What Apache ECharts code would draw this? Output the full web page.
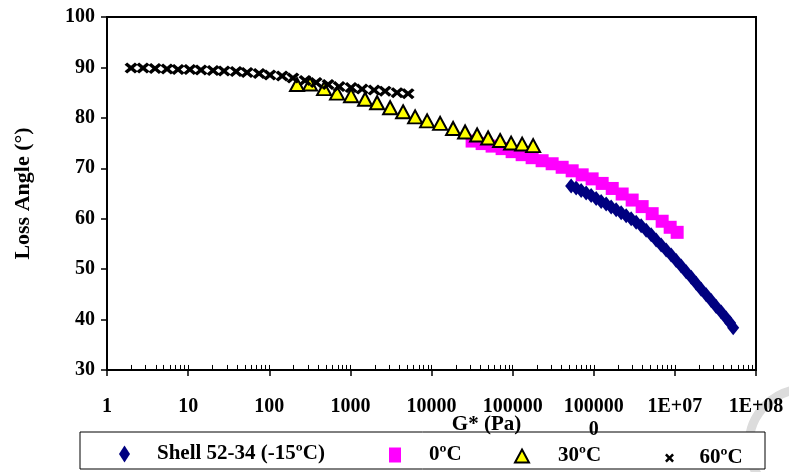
<!DOCTYPE html>
<html><head><meta charset="utf-8">
<script src="https://cdn.jsdelivr.net/npm/echarts@6/dist/echarts.min.js"></script>
<style>html,body{margin:0;padding:0;background:#fff}#c{width:789px;height:472px}</style>
</head><body><div id="c"></div>
<script>
const seriesNames = ['Shell 52-34 (-15ºC)', '0ºC', '30ºC', '60ºC'];

const shellG = [5.264e5, 6.067e5, 6.993e5, 8.060e5, 9.289e5, 1.071e6, 1.234e6, 1.422e6, 1.639e6, 1.889e6, 2.177e6, 2.509e6, 2.892e6, 3.333e6, 3.841e6, 4.428e6, 5.103e6, 5.881e6, 6.779e6, 7.812e6, 9.003e6, 1.038e7, 1.196e7, 1.378e7, 1.589e7, 1.831e7, 2.110e7, 2.432e7, 2.803e7, 3.231e7, 3.723e7, 4.291e7, 4.807e7, 5.235e7];
const shellAngle = [66.5, 66.1, 65.6, 65.1, 64.6, 64.0, 63.4, 62.9, 62.3, 61.8, 61.2, 60.6, 60.0, 59.3, 58.6, 57.7, 56.8, 55.8, 54.8, 53.8, 52.8, 51.7, 50.6, 49.5, 48.4, 47.2, 46.0, 44.9, 43.8, 42.6, 41.5, 40.3, 39.3, 38.4];

const g0C = [31670, 42070, 55850, 74200, 98600, 131000, 174000, 231000, 307000, 408000, 542000, 720000, 955000, 1270000, 1690000, 2240000, 2975000, 3950000, 5250000, 6970000, 8750000, 10670000];
const angle0C = [75.4, 74.9, 74.4, 73.9, 73.3, 72.7, 72.1, 71.5, 70.9, 70.2, 69.5, 68.7, 67.9, 67.0, 66.0, 64.9, 63.7, 62.4, 61.0, 59.5, 58.3, 57.3];

const g30C = [220, 318, 474, 685, 1020, 1518, 2135, 3090, 4465, 6280, 8830, 12770, 18460, 25950, 36500, 49880, 70100, 95800, 131000, 179000];
const angle30C = [86.6, 86.7, 85.8, 84.9, 84.4, 83.7, 83.0, 82.0, 81.2, 80.2, 79.4, 78.9, 77.9, 77.2, 76.6, 76.0, 75.5, 75.0, 74.8, 74.5];

const g60C = [1.98, 2.78, 3.91, 5.49, 7.51, 10.5, 14.4, 20.3, 27.7, 39.0, 53.3, 74.9, 102, 144, 196, 276, 378, 531, 726, 1020, 1394, 1960, 2679, 3765, 5145];
const angle60C = [89.9, 89.9, 89.8, 89.7, 89.6, 89.6, 89.5, 89.4, 89.3, 89.2, 89.0, 88.8, 88.5, 88.3, 87.9, 87.4, 87.0, 86.6, 86.2, 86.0, 85.7, 85.5, 85.3, 85.0, 84.8];

const xTickLabels = ['1', '10', '100', '1000', '10000', '100000', '100000\n0', '1E+07', '1E+08'];
const decades = [1, 10, 100, 1000, 1e4, 1e5, 1e6, 1e7];
const minorMultipliers = [1, 2, 3, 4, 5, 6, 7, 8, 9];
const minorTickValues = [];
decades.forEach(function (d) {
  minorMultipliers.forEach(function (m) { minorTickValues.push(m * d); });
});
minorTickValues.push(1e8);
const Y_MIN = 30, Y_MAX = 100, MINOR_TICK_SPAN = 1;

const FONT = "'Liberation Serif', 'Times New Roman', serif";
const xMark = 'path://M0,2L2,0L5,3L8,0L10,2L7,5L10,8L8,10L5,7L2,10L0,8L3,5Z';

function zip(a, b) { return a.map(function (v, i) { return [v, b[i]]; }); }

const chart = echarts.init(document.getElementById('c'), null, {renderer: 'canvas'});

function legendAt(name, left, w, h, pad) {
  return {
    data: [name], left: left, top: 452 - h / 2, orient: 'horizontal', padding: 0,
    itemWidth: w, itemHeight: h, selectedMode: false,
    textStyle: {fontFamily: FONT, fontWeight: 'bold', fontSize: 21, color: '#000', padding: [0, 0, 0, pad]}
  };
}

chart.setOption({
  animation: false,
  backgroundColor: '#fff',
  grid: {left: 107, right: 33, top: 17, bottom: 102, show: true, borderColor: '#000', borderWidth: 2, backgroundColor: 'transparent'},
  xAxis: {
    type: 'log', logBase: 10, min: 1, max: 1e8,
    name: 'G* (Pa)', nameLocation: 'middle', nameGap: 44, nameMoveOverlap: false,
    nameTextStyle: {fontFamily: FONT, fontWeight: 'bold', fontSize: 21, color: '#000', padding: [0, 0, 0, 110]},
    axisLine: {show: true, lineStyle: {color: '#000', width: 2}},
    axisTick: {show: true, inside: false, length: 6, lineStyle: {color: '#000', width: 1.5}},
    axisLabel: {
      margin: 25, fontFamily: FONT, fontWeight: 'bold', fontSize: 20, color: '#000', lineHeight: 23, verticalAlign: 'top',
      formatter: function (v) { return xTickLabels[Math.round(Math.log10(v))]; }
    },
    splitLine: {show: false}
  },
  yAxis: {
    type: 'value', min: Y_MIN, max: Y_MAX, interval: 10,
    name: 'Loss Angle (°)', nameLocation: 'middle', nameGap: 73, nameMoveOverlap: false,
    nameTextStyle: {fontFamily: FONT, fontWeight: 'bold', fontSize: 22, color: '#000'},
    axisLine: {show: true, lineStyle: {color: '#000', width: 2}},
    axisTick: {show: true, inside: false, length: 6, lineStyle: {color: '#000', width: 1.5}},
    axisLabel: {margin: 12, fontFamily: FONT, fontWeight: 'bold', fontSize: 20, color: '#000'},
    splitLine: {show: false}
  },
  legend: [
    legendAt(seriesNames[0], 119, 11, 17, 22),
    legendAt(seriesNames[1], 389, 12, 15, 23),
    legendAt(seriesNames[2], 514, 14, 13, 24),
    legendAt(seriesNames[3], 665, 10, 9, 20)
  ],
  graphic: [
    {type: 'arc', z: -1, silent: true, shape: {cx: 805, cy: 445, r: 56, startAngle: 0, endAngle: Math.PI * 2},
     style: {stroke: '#dcdcdc', lineWidth: 9, fill: null}},
    {type: 'rect', z: 0, silent: true, shape: {x: 80, y: 432, width: 685, height: 37},
     style: {fill: '#fff', stroke: '#000', lineWidth: 1}}
  ],
  series: [
    {name: seriesNames[0], type: 'scatter', data: zip(shellG, shellAngle), symbol: 'diamond', symbolSize: [12, 15],
     itemStyle: {color: '#000080', opacity: 1},
     markLine: {
       silent: true, symbol: ['none', 'none'], label: {show: false}, animation: false,
       lineStyle: {color: '#000', width: 1, type: 'solid', opacity: 1},
       emphasis: {disabled: true},
       data: minorTickValues.map(function (v) { return [{coord: [v, Y_MIN]}, {coord: [v, Y_MIN + MINOR_TICK_SPAN]}]; })
     }},
    {name: seriesNames[1], type: 'scatter', data: zip(g0C, angle0C), symbol: 'rect', symbolSize: 13,
     itemStyle: {color: '#FF00FF', opacity: 1}},
    {name: seriesNames[2], type: 'scatter', data: zip(g30C, angle30C), symbol: 'triangle', symbolSize: [14, 13],
     itemStyle: {color: '#FFFF00', borderColor: '#000', borderWidth: 2, opacity: 1}},
    {name: seriesNames[3], type: 'scatter', data: zip(g60C, angle60C), symbol: xMark, symbolSize: [13, 11],
     itemStyle: {color: '#000', opacity: 1}}
  ]
});
</script>
</body></html>
